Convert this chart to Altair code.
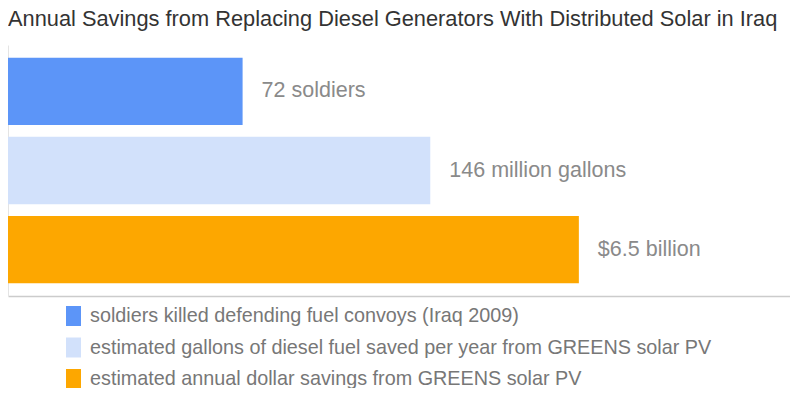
import altair as alt
import pandas as pd

title_text = "Annual Savings from Replacing Diesel Generators With Distributed Solar in Iraq"
categories = [
    "soldiers killed defending fuel convoys (Iraq 2009)",
    "estimated gallons of diesel fuel saved per year from GREENS solar PV",
    "estimated annual dollar savings from GREENS solar PV",
]
# relative bar lengths as drawn (percent of axis)
bar_lengths = [30, 54, 73]
bar_labels = ["72 soldiers", "146 million gallons", "$6.5 billion"]
colors = ["#5c95f8", "#d2e1fb", "#fda700"]

df = pd.DataFrame({"cat": categories, "value": bar_lengths, "label": bar_labels})

FONT = "Liberation Sans"

y_enc = alt.Y(
    "cat:N",
    sort=categories,
    scale=alt.Scale(paddingInner=0.15, paddingOuter=0.16),
    axis=alt.Axis(labels=False, ticks=False, title=None, domain=True,
                  domainColor="#e4e4e4", domainWidth=1),
)
x_enc = alt.X(
    "value:Q",
    scale=alt.Scale(domain=[0, 100], nice=False),
    axis=alt.Axis(labels=False, ticks=False, grid=False, title=None,
                  domainColor="#cccccc", domainWidth=1.5),
)

bars = alt.Chart(df).mark_bar().encode(
    x=x_enc,
    y=y_enc,
    color=alt.Color(
        "cat:N",
        sort=categories,
        scale=alt.Scale(domain=categories, range=colors),
        legend=alt.Legend(
            title=None,
            orient="none",
            legendX=55.5,
            legendY=261,
            symbolType="M-0.75,-1L0.75,-1L0.75,1L-0.75,1Z",
            symbolSize=400,
            symbolStrokeWidth=0,
            symbolOpacity=1,
            labelFont=FONT,
            labelFontSize=19.8,
            labelColor="#777777",
            labelOffset=6.5,
            labelLimit=800,
            rowPadding=11.5,
            padding=0,
        ),
    ),
)

texts = alt.Chart(df).mark_text(
    align="left", baseline="middle", dx=19, font=FONT, fontSize=21.5, color="#8a8a8a"
).encode(
    x=alt.X("value:Q"),
    y=alt.Y("cat:N", sort=categories),
    text="label:N",
)

chart = (
    alt.layer(bars, texts)
    .properties(
        width=782,
        height=251,
        title=alt.TitleParams(title_text, anchor="start", font=FONT, fontSize=21.8,
                              fontWeight="normal", color="#333333", offset=14),
        autosize=alt.AutoSizeParams(type="none"),
        padding={"left": 0, "top": 37, "right": 0, "bottom": 92},
    )
    .configure_view(stroke=None)
)

chart.save("out.html", embed_options={"renderer": "svg", "actions": False})
